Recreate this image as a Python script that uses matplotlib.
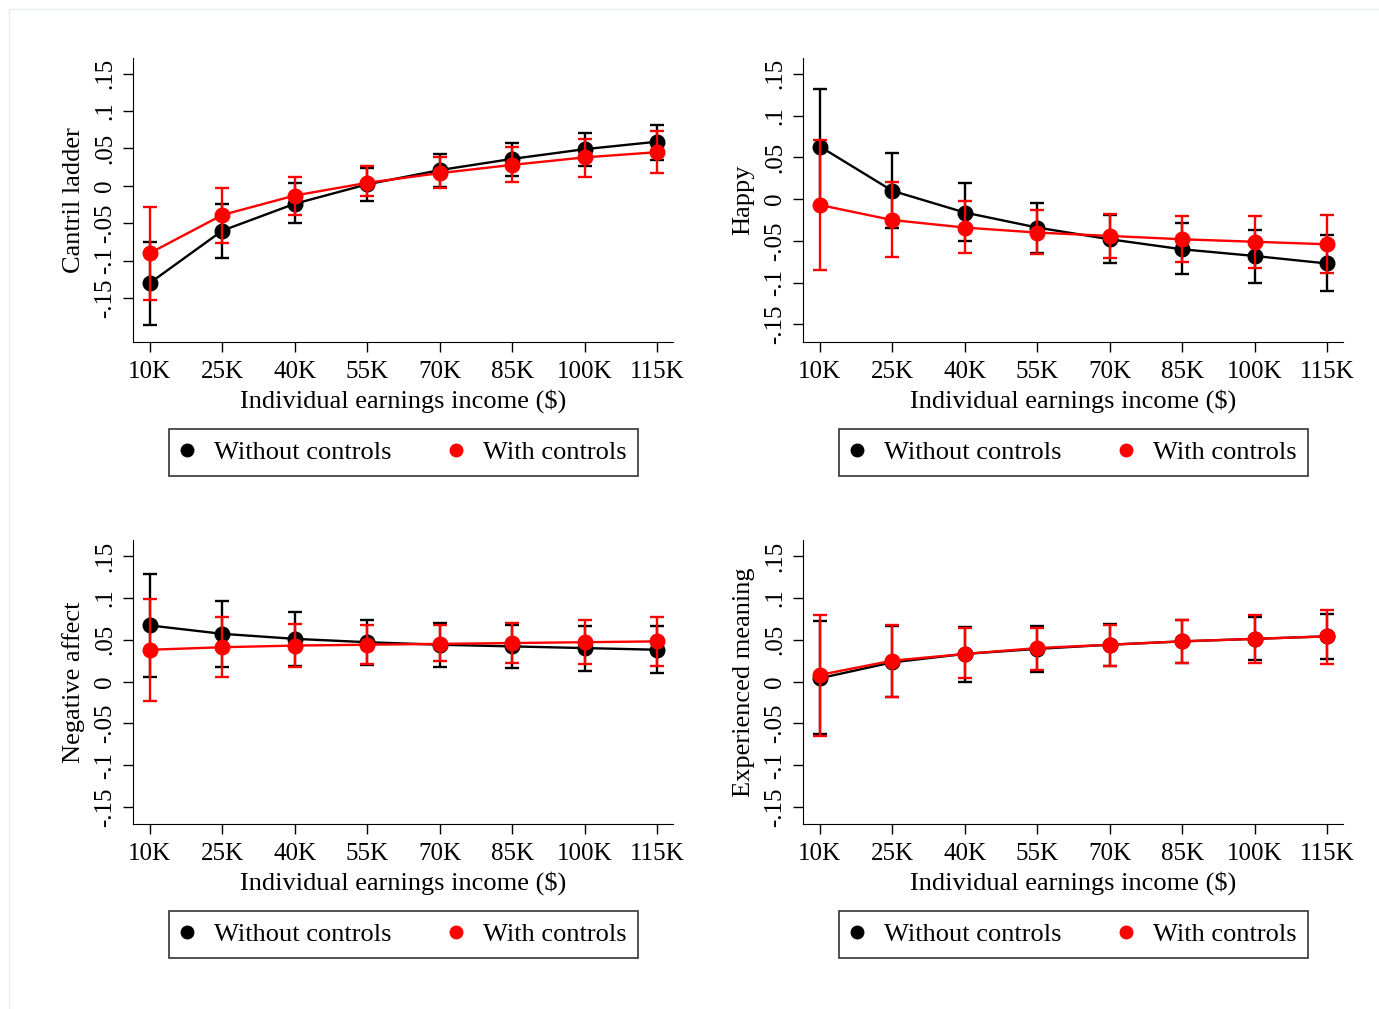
import numpy as np
import matplotlib.pyplot as plt
from matplotlib.lines import Line2D
from matplotlib.patches import Rectangle

plt.rcParams['font.family'] = ['Liberation Serif', 'DejaVu Serif']

income = [10, 25, 40, 55, 70, 85, 100, 115]
income_labels = ["10K", "25K", "40K", "55K", "70K", "85K", "100K", "115K"]
ytick_vals = [-0.15, -0.1, -0.05, 0, 0.05, 0.1, 0.15]
ytick_labels = ["-.15", "-.1", "-.05", "0", ".05", ".1", ".15"]

# Cantril ladder
cantril_nc = [-0.130, -0.060, -0.024, 0.002, 0.021, 0.036, 0.049, 0.059]
cantril_nc_lo = [-0.186, -0.096, -0.050, -0.021, -0.002, 0.013, 0.026, 0.035]
cantril_nc_hi = [-0.075, -0.024, 0.004, 0.024, 0.042, 0.057, 0.070, 0.082]
cantril_c = [-0.090, -0.039, -0.013, 0.004, 0.017, 0.028, 0.038, 0.045]
cantril_c_lo = [-0.153, -0.076, -0.039, -0.013, -0.003, 0.005, 0.012, 0.017]
cantril_c_hi = [-0.028, -0.003, 0.012, 0.026, 0.039, 0.052, 0.063, 0.073]

# Happy
happy_nc = [0.063, 0.010, -0.016, -0.034, -0.048, -0.060, -0.068, -0.077]
happy_nc_lo = [-0.006, -0.034, -0.050, -0.065, -0.077, -0.089, -0.100, -0.110]
happy_nc_hi = [0.132, 0.055, 0.019, -0.004, -0.019, -0.029, -0.037, -0.043]
happy_c = [-0.007, -0.025, -0.034, -0.040, -0.044, -0.048, -0.051, -0.054]
happy_c_lo = [-0.085, -0.069, -0.065, -0.066, -0.070, -0.075, -0.082, -0.088]
happy_c_hi = [0.071, 0.021, -0.002, -0.013, -0.018, -0.020, -0.020, -0.019]

# Negative affect
neg_nc = [0.067, 0.057, 0.051, 0.047, 0.044, 0.042, 0.040, 0.038]
neg_nc_lo = [0.006, 0.017, 0.019, 0.020, 0.018, 0.016, 0.013, 0.010]
neg_nc_hi = [0.129, 0.096, 0.083, 0.074, 0.070, 0.067, 0.066, 0.066]
neg_c = [0.038, 0.041, 0.043, 0.044, 0.045, 0.046, 0.047, 0.048]
neg_c_lo = [-0.023, 0.006, 0.018, 0.021, 0.024, 0.022, 0.021, 0.019]
neg_c_hi = [0.098, 0.077, 0.069, 0.067, 0.068, 0.070, 0.073, 0.077]

# Experienced meaning
mean_nc = [0.004, 0.023, 0.033, 0.039, 0.044, 0.048, 0.051, 0.054]
mean_nc_lo = [-0.062, -0.019, 0.000, 0.012, 0.019, 0.022, 0.026, 0.027]
mean_nc_hi = [0.072, 0.066, 0.065, 0.066, 0.069, 0.073, 0.077, 0.081]
mean_c = [0.008, 0.025, 0.033, 0.040, 0.044, 0.048, 0.051, 0.054]
mean_c_lo = [-0.065, -0.018, 0.004, 0.014, 0.019, 0.022, 0.022, 0.021]
mean_c_hi = [0.080, 0.067, 0.064, 0.064, 0.068, 0.073, 0.079, 0.085]

panels = [
    ("Cantril ladder", cantril_nc, cantril_nc_lo, cantril_nc_hi,
     cantril_c, cantril_c_lo, cantril_c_hi, (-0.209, 0.171)),
    ("Happy", happy_nc, happy_nc_lo, happy_nc_hi,
     happy_c, happy_c_lo, happy_c_hi, (-0.171, 0.169)),
    ("Negative affect", neg_nc, neg_nc_lo, neg_nc_hi,
     neg_c, neg_c_lo, neg_c_hi, (-0.170, 0.169)),
    ("Experienced meaning", mean_nc, mean_nc_lo, mean_nc_hi,
     mean_c, mean_c_lo, mean_c_hi, (-0.170, 0.169)),
]

W, H = 1379, 1009
fig = plt.figure(figsize=(W / 100, H / 100), dpi=100)
fig.patches.append(Rectangle((9 / W, -0.1), 1.2, 1 - 9 / H + 0.1, transform=fig.transFigure,
                             fill=False, edgecolor="#e9eded", lw=1))

# axes boxes in pixels: left, top
boxes = [(133, 58), (803, 58), (133, 540), (803, 540)]
aw, ah = 540, 284
fs = 19
tfs = 18

for (name, nc, nlo, nhi, c, clo, chi, ylim), (px, py) in zip(panels, boxes):
    ax = fig.add_axes([px / W, 1 - (py + ah) / H, aw / W, ah / H])
    nc = np.array(nc)
    c = np.array(c)
    ax.errorbar(income, nc, yerr=[nc - np.array(nlo), np.array(nhi) - nc],
                color="black", lw=1.7, elinewidth=1.7, capsize=5, capthick=1.7,
                marker="o", ms=10.5, zorder=2)
    ax.errorbar(income, c, yerr=[c - np.array(clo), np.array(chi) - c],
                color="red", lw=1.7, elinewidth=1.7, capsize=5, capthick=1.7,
                marker="o", ms=10.5, zorder=3)
    ax.set_xlim(6.5, 118.3)
    ax.set_ylim(*ylim)
    ax.set_xticks(income)
    ax.set_xticklabels(income_labels, fontsize=tfs)
    ax.set_yticks(ytick_vals)
    ax.set_yticklabels(ytick_labels, fontsize=tfs, rotation=90, va="center")
    ax.tick_params(length=7, width=1, color="black")
    ax.tick_params(axis="x", pad=7)
    ax.tick_params(axis="y", pad=5)
    ax.spines["top"].set_visible(False)
    ax.spines["right"].set_visible(False)
    ax.set_ylabel(name, fontsize=fs, labelpad=7)
    ax.set_xlabel("Individual earnings income ($)", fontsize=fs, labelpad=4)

    handles = [Line2D([], [], ls="none", marker="o", color="black", ms=9),
               Line2D([], [], ls="none", marker="o", color="red", ms=9)]
    leg = fig.legend(handles, ["Without controls", "With controls"], ncol=2,
                     loc="center", fontsize=fs, frameon=True, fancybox=False,
                     edgecolor="black", handletextpad=0.77, columnspacing=2.17,
                     borderpad=0.45, handlelength=0.5,
                     bbox_to_anchor=((px + 270.5) / W, 1 - (py + 394.5) / H))
    leg.get_frame().set_linewidth(1.2)

fig.savefig("out.png", dpi=100, facecolor="white")
